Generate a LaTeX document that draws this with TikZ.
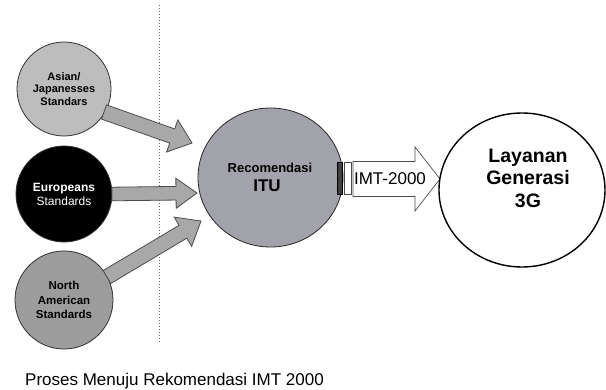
\documentclass[tikz,border=0pt]{standalone}
\usepackage{fontspec}
\setmainfont{Liberation Sans}
\usetikzlibrary{calc,shapes.geometric}
\newcommand\fatarrow[6]{% style, from, to, half shaft, half head, head length
  \path[#1] ($(#2)!#4!90:(#3)$) -- ($(#3)!#6!(#2)!#4!-90:(#2)$) -- ($(#3)!#6!(#2)!#5!-90:(#2)$)
    -- (#3) -- ($(#3)!#6!(#2)!#5!90:(#2)$) -- ($(#3)!#6!(#2)!#4!90:(#2)$) -- ($(#2)!#4!-90:(#3)$) -- cycle;}
\definecolor{asiafill}{HTML}{BDBDBD}
\definecolor{nafill}{HTML}{9C9C9C}
\definecolor{itufill}{HTML}{A2A2AA}
\definecolor{arrfill}{HTML}{A8A8A8}
\begin{document}
\begin{tikzpicture}[x=1pt,y=-1pt,
  src/.style={circle,draw=black!80,line width=0.8pt,inner sep=0pt,minimum size=94pt,align=center},
  arr/.style={fill=arrfill,draw=black!70,line width=0.8pt,line join=miter},
  imtarr/.style={fill=white,draw=black!70,line width=0.7pt},
  smalltxt/.style={font=\fontsize{11}{12.5}\selectfont\bfseries}]
\useasboundingbox (0,0) rectangle (606,390);
\fill[white] (0,0) rectangle (606,390);
% dotted divider
\draw[black!60,dotted,line width=1pt] (159,5) -- (159,342);
% source circles
\node[src,fill=asiafill,smalltxt] (asia) at (64,89) {Asian/\\Japanesses\\Standars};
\node[src,fill=black,text=white,minimum size=96pt,font=\fontsize{12}{14}\selectfont] (eur) at (64,194) {\textbf{Europeans}\\Standards};
\node[src,fill=nafill,smalltxt,minimum size=98pt,font=\fontsize{11.5}{14.5}\selectfont\bfseries] (na) at (64,300) {North\\American\\Standards};
% ITU circle
\node[ellipse,draw=black!85,line width=0.8pt,fill=itufill,inner sep=0pt,minimum width=145pt,minimum height=139pt] (itu) at (270.5,177.5) {};
\node[font=\fontsize{13}{15}\selectfont\bfseries] (itut) at (270,168) {Recomendasi};
\node[font=\fontsize{17}{19}\selectfont\bfseries] (itu2) at (267,186) {ITU};
% arrows into ITU
\coordinate (a1) at (104,112);
\coordinate (a2) at (192,143);
\coordinate (e1) at (112,194);
\coordinate (e2) at (197,193);
\coordinate (n1) at (107,277);
\coordinate (n2) at (201,221);
\fatarrow{arr}{a1}{a2}{7.5pt}{17pt}{21pt}
\fatarrow{arr}{e1}{e2}{6.8pt}{15pt}{21pt}
\fatarrow{arr}{n1}{n2}{7.5pt}{17pt}{21pt}
% small bars
\node[draw=black,line width=0.8pt,fill=black!75,minimum width=5pt,minimum height=32pt,inner sep=0pt] (bar1) at (339.5,178) {};
\node[draw=black!70,line width=0.7pt,fill=white,minimum width=7pt,minimum height=32pt,inner sep=0pt] (bar2) at (347.5,178) {};
% IMT arrow
\coordinate (m1) at (353,179);
\coordinate (m2) at (440,179);
\fatarrow{imtarr}{m1}{m2}{17.5pt}{32pt}{25pt}
\node[font=\fontsize{17}{19}\selectfont] (imt) at (390,179) {IMT-2000};
% output ellipse
\node[ellipse,draw=black,line width=1.4pt,fill=white,minimum width=166pt,minimum height=154pt,inner sep=0pt] (lay) at (522,190) {};
\node[align=center,font=\fontsize{19.5}{22.5}\selectfont\bfseries] (layt) at (528,178) {Layanan\\Generasi\\3G};
% caption
\node[anchor=base west,inner sep=0pt,font=\fontsize{17}{19}\selectfont] (cap) at (25,386) {Proses Menuju Rekomendasi IMT 2000};
\end{tikzpicture}
\end{document}
